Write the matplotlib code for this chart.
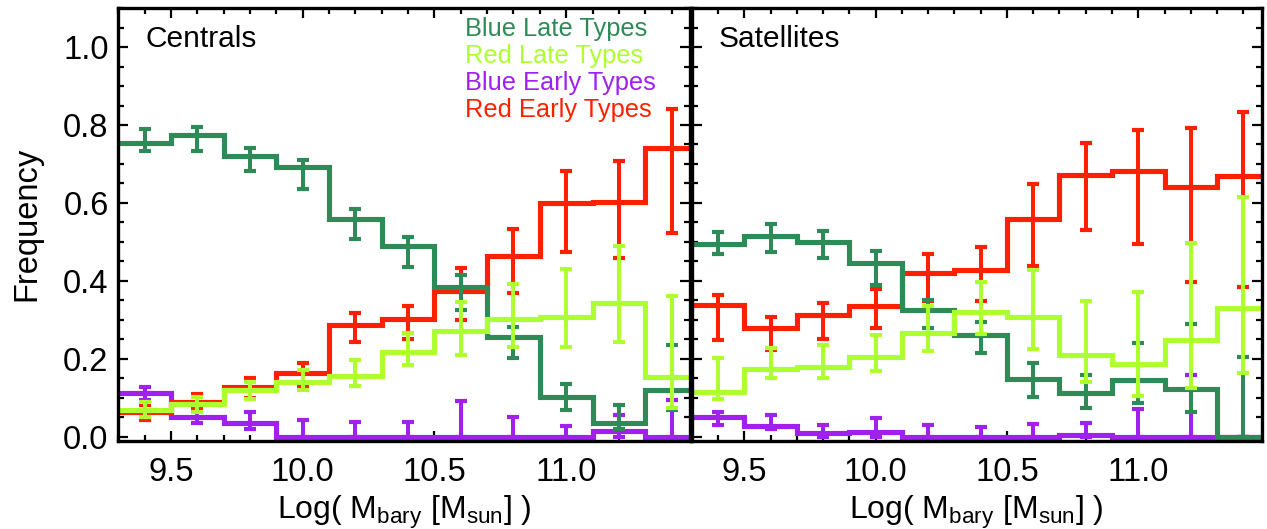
import numpy as np
import matplotlib
matplotlib.use("Agg")
import matplotlib.pyplot as plt
from matplotlib.ticker import MultipleLocator, FormatStrFormatter

plt.rcParams['font.family'] = ['Liberation Sans', 'DejaVu Sans']
plt.rcParams['mathtext.default'] = 'regular'

# ---------------- data ----------------
centers = [9.4, 9.6, 9.8, 10.0, 10.2, 10.4, 10.6, 10.8, 11.0, 11.2, 11.4]
bin_width = 0.2

series_names = ["Blue Late Types", "Red Late Types", "Blue Early Types", "Red Early Types"]
series_colors = {"Blue Late Types": "#2E8B57", "Red Late Types": "#ADFF2F",
                 "Blue Early Types": "#A020F0", "Red Early Types": "#FF2000"}

# Centrals: value, lower error-bar end, upper error-bar end
cen_blue_late = [0.753, 0.774, 0.720, 0.693, 0.560, 0.489, 0.385, 0.257, 0.103, 0.036, 0.120]
cen_blue_late_lo = [0.732, 0.734, 0.682, 0.635, 0.507, 0.436, 0.325, 0.201, 0.068, 0.019, 0.068]
cen_blue_late_hi = [0.790, 0.796, 0.742, 0.710, 0.584, 0.513, 0.415, 0.282, 0.135, 0.081, 0.235]

cen_red_late = [0.069, 0.084, 0.120, 0.141, 0.156, 0.218, 0.272, 0.301, 0.308, 0.344, 0.152]
cen_red_late_lo = [0.050, 0.064, 0.098, 0.120, 0.130, 0.184, 0.210, 0.231, 0.229, 0.244, 0.073]
cen_red_late_hi = [0.090, 0.103, 0.141, 0.171, 0.197, 0.265, 0.346, 0.392, 0.430, 0.490, 0.361]

cen_blue_early = [0.111, 0.051, 0.034, 0.0, 0.0, 0.0, 0.0, 0.0, 0.0, 0.015, 0.0]
cen_blue_early_lo = [0.095, 0.035, 0.021, 0.0, 0.0, 0.0, 0.0, 0.0, 0.0, 0.0, 0.0]
cen_blue_early_hi = [0.128, 0.070, 0.064, 0.043, 0.039, 0.039, 0.092, 0.050, 0.027, 0.056, 0.095]

cen_red_early = [0.064, 0.090, 0.127, 0.164, 0.287, 0.301, 0.375, 0.465, 0.599, 0.603, 0.740]
cen_red_early_lo = [0.043, 0.070, 0.100, 0.130, 0.244, 0.252, 0.300, 0.368, 0.475, 0.458, 0.524]
cen_red_early_hi = [0.082, 0.110, 0.150, 0.188, 0.317, 0.335, 0.432, 0.533, 0.683, 0.708, 0.840]

# Satellites
sat_blue_late = [0.495, 0.515, 0.499, 0.445, 0.324, 0.261, 0.148, 0.111, 0.145, 0.122, 0.0]
sat_blue_late_lo = [0.469, 0.475, 0.458, 0.389, 0.278, 0.214, 0.103, 0.073, 0.086, 0.064, 0.0]
sat_blue_late_hi = [0.526, 0.546, 0.529, 0.477, 0.351, 0.295, 0.188, 0.158, 0.240, 0.289, 0.205]

sat_red_late = [0.114, 0.175, 0.178, 0.205, 0.265, 0.321, 0.308, 0.210, 0.187, 0.248, 0.330]
sat_red_late_lo = [0.098, 0.151, 0.151, 0.169, 0.221, 0.264, 0.224, 0.141, 0.105, 0.124, 0.164]
sat_red_late_hi = [0.201, 0.227, 0.235, 0.261, 0.336, 0.398, 0.428, 0.348, 0.371, 0.498, 0.614]

sat_blue_early = [0.050, 0.027, 0.009, 0.013, 0.0, 0.0, 0.0, 0.004, 0.0, 0.0, 0.0]
sat_blue_early_lo = [0.030, 0.019, 0.0, 0.0, 0.0, 0.0, 0.0, 0.0, 0.0, 0.0, 0.0]
sat_blue_early_hi = [0.064, 0.056, 0.030, 0.047, 0.030, 0.026, 0.032, 0.036, 0.070, 0.158, 0.0]

sat_red_early = [0.338, 0.278, 0.312, 0.336, 0.421, 0.428, 0.560, 0.672, 0.683, 0.642, 0.669]
sat_red_early_lo = [0.247, 0.223, 0.252, 0.278, 0.349, 0.347, 0.438, 0.531, 0.495, 0.398, 0.385]
sat_red_early_hi = [0.364, 0.306, 0.344, 0.378, 0.469, 0.488, 0.648, 0.753, 0.786, 0.792, 0.834]

panels = [
    ("Centrals", {
        "Blue Late Types": (cen_blue_late, cen_blue_late_lo, cen_blue_late_hi),
        "Red Late Types": (cen_red_late, cen_red_late_lo, cen_red_late_hi),
        "Blue Early Types": (cen_blue_early, cen_blue_early_lo, cen_blue_early_hi),
        "Red Early Types": (cen_red_early, cen_red_early_lo, cen_red_early_hi),
    }),
    ("Satellites", {
        "Blue Late Types": (sat_blue_late, sat_blue_late_lo, sat_blue_late_hi),
        "Red Late Types": (sat_red_late, sat_red_late_lo, sat_red_late_hi),
        "Blue Early Types": (sat_blue_early, sat_blue_early_lo, sat_blue_early_hi),
        "Red Early Types": (sat_red_early, sat_red_early_lo, sat_red_early_hi),
    }),
]

draw_order = ["Blue Early Types", "Red Early Types", "Blue Late Types", "Red Late Types"]

# ---------------- figure ----------------
W, H = 1267, 529
fig = plt.figure(figsize=(W / 100, H / 100), dpi=100)
ax_rects = [
    [118.3 / W, 1 - 440.6 / H, 571.7 / W, 432.5 / H],
    [691.7 / W, 1 - 440.6 / H, 570.0 / W, 432.5 / H],
]

c = np.array(centers)
edges = np.append(c - bin_width / 2, c[-1] + bin_width / 2)

for i, (title, data) in enumerate(panels):
    ax = fig.add_axes(ax_rects[i])
    for name in draw_order:
        val, lo, hi = (np.array(a) for a in data[name])
        col = series_colors[name]
        ax.stairs(val, edges, baseline=None, color=col, lw=3.7, zorder=2,
                  joinstyle='miter')
        ax.errorbar(c, val, yerr=[val - lo, hi - val], fmt='none', ecolor=col,
                    elinewidth=2.9, capsize=4.3, capthick=3.0, zorder=2)
    ax.set_xlim(9.3, 11.47)
    ax.set_ylim(-0.01, 1.1)
    ax.xaxis.set_major_locator(MultipleLocator(0.5))
    ax.xaxis.set_minor_locator(MultipleLocator(0.1))
    ax.yaxis.set_major_locator(MultipleLocator(0.2))
    ax.yaxis.set_minor_locator(MultipleLocator(0.05))
    ax.xaxis.set_major_formatter(FormatStrFormatter('%.1f'))
    ax.yaxis.set_major_formatter(FormatStrFormatter('%.1f'))
    ax.tick_params(which='both', direction='in', top=True, right=True,
                   labelsize=23.5, width=1.6)
    ax.tick_params(which='major', length=7.5)
    ax.tick_params(which='minor', length=4)
    ax.tick_params(axis='x', pad=12)
    ax.tick_params(axis='y', pad=7)
    for sp in ax.spines.values():
        sp.set_linewidth(2.4)
    ax.set_xlabel("Log( M$_{bary}$ [M$_{sun}$] )", fontsize=23, labelpad=4)
    ax.text(0.047, 0.929, title, transform=ax.transAxes, fontsize=21.5,
            ha='left', va='center')
    if i == 0:
        ax.set_ylabel("Frequency", fontsize=23.5, labelpad=15)
        for k, name in enumerate(series_names):
            ax.text(0.606, 0.952 - k * 0.0624, name, transform=ax.transAxes,
                    fontsize=18.3, color=series_colors[name], ha='left', va='center')
    else:
        ax.tick_params(axis='y', labelleft=False)

fig.savefig("out.png", dpi=100)
